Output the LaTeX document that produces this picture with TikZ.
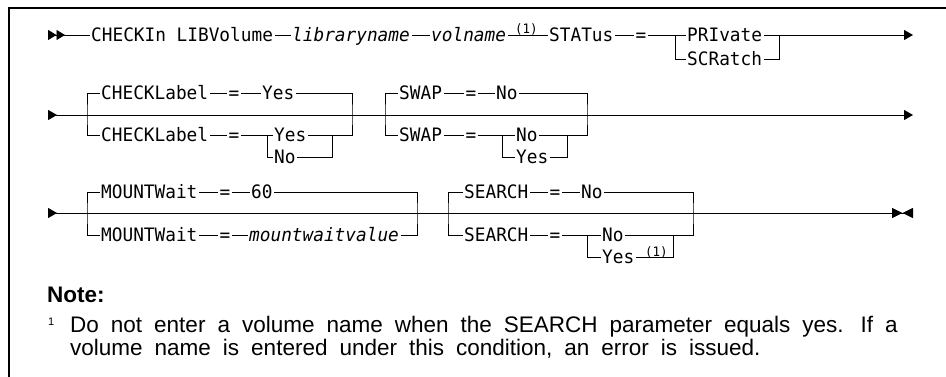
\documentclass[tikz,border=0pt]{standalone}
\usepackage{fontspec}
\usepackage{xcolor}
\usepackage{tikz}
\usetikzlibrary{positioning,arrows.meta,calc}
\newfontfamily\railfont{DejaVu Sans Mono}[FakeStretch=0.96]
\newfontfamily\notefont{Liberation Sans}
\newcommand\notespacing{\spaceskip 12pt\relax}
\definecolor{railblack}{RGB}{0,0,0}
\tikzset{
  keyword-node/.style={font=\railfont\fontsize{18.5}{22}\selectfont, anchor=west,
    inner xsep=1.5pt, inner ysep=0pt, text height=13.5pt, text depth=0pt},
  variable-node/.style={keyword-node, font=\railfont\itshape\fontsize{18.5}{22}\selectfont},
  equals-node/.style={keyword-node, anchor=center},
  ref-node/.style={font=\railfont\fontsize{13}{15}\selectfont, anchor=base west, inner sep=0pt},
  rail-line/.style={line width=0.9pt, draw=railblack},
  frame-line/.style={line width=1.6pt, draw=railblack},
  note-head/.style={font=\notefont\bfseries\fontsize{22.5}{26}\selectfont, anchor=base west, inner sep=0pt},
  note-text/.style={font=\notefont\fontsize{22.5}{26}\selectfont\notespacing, anchor=base west, inner sep=0pt},
  note-mark/.style={font=\notefont\fontsize{11}{13}\selectfont, anchor=base west, inner sep=0pt}
}

\begin{document}
\begin{tikzpicture}[x=1pt, y=-1pt]
\useasboundingbox (0,0) rectangle (946,377);
\draw[frame-line] (946,8) -- (9,8) -- (9,377);

% first row
\coordinate (r1start) at (48,35);
\coordinate (r1end) at (913,35);
\coordinate (r1left) at (675,35);
\coordinate (r1right) at (779,35);
\node[keyword-node] (chkin) at (89.5,35) {CHECKIn LIBVolume};
\node[variable-node] (libname) at (290.5,35) {libraryname};
\node[variable-node] (volname) at (429.5,35) {volname};
\node[ref-node] (volref) at (515,34) {(1)};
\node[keyword-node] (status) at (547.5,35) {STATus};
\node[equals-node] (eqst) at (641,35) {=};
\node[keyword-node] (priv) at (685.5,35) {PRIvate};
\node[keyword-node] (scr) at (685.5,59) {SCRatch};
\draw[rail-line, {Triangle[length=8.5pt, width=10pt, sep=0pt, reversed]Triangle[length=8.5pt, width=10pt, sep=0pt, reversed]}-]
  (r1start) -- (chkin.west);
\draw[rail-line] (chkin.east) -- (libname.west);
\draw[rail-line] (libname.east) -- (volname.west);
\draw[rail-line] (volname.east) -- (status.west);
\draw[rail-line] (status.east) -- (eqst.west);
\draw[rail-line] (eqst.east) -- (priv.west);
\draw[rail-line] (priv.west) -| (r1left) |- (scr.west);
\draw[rail-line] (priv.east) -| (r1right) |- (scr.east);
\draw[rail-line, -{Triangle[length=9pt, width=10pt]}] (priv.east) -- (r1end);

% second row
\coordinate (r2start) at (48,115);
\coordinate (r2end) at (913,115);
\draw[rail-line, {Triangle[length=9pt, width=10pt, reversed]}-{Triangle[length=9pt, width=10pt]}]
  (r2start) -- (r2end);
% CHECKLabel group
\coordinate (gAl) at (87,115);
\coordinate (gAr) at (352,115);
\coordinate (iAl) at (267,135);
\coordinate (iAr) at (332,135);
\node[keyword-node] (cklA) at (99.5,93) {CHECKLabel};
\node[equals-node] (eqA) at (234,93) {=};
\node[keyword-node] (yesA) at (260.5,93) {Yes};
\node[keyword-node] (cklB) at (99.5,135) {CHECKLabel};
\node[equals-node] (eqB) at (234,135) {=};
\node[keyword-node] (yesB) at (272.5,135) {Yes};
\node[keyword-node] (noB) at (272.5,157) {No};
\draw[rail-line] (cklA.west) -| (gAl) |- (cklB.west);
\draw[rail-line] (cklA.east) -- (eqA.west);
\draw[rail-line] (eqA.east) -- (yesA.west);
\draw[rail-line] (yesA.east) -| (gAr) |- (yesB.east);
\draw[rail-line] (cklB.east) -- (eqB.west);
\draw[rail-line] (eqB.east) -- (yesB.west);
\draw[rail-line] (yesB.west) -| (iAl) |- (noB.west);
\draw[rail-line] (noB.east) -| (iAr);
% SWAP group
\coordinate (gBl) at (385,115);
\coordinate (gBr) at (587,115);
\coordinate (iBl) at (502,135);
\coordinate (iBr) at (567,135);
\node[keyword-node] (swapA) at (397.5,93) {SWAP};
\node[equals-node] (eqC) at (471,93) {=};
\node[keyword-node] (noA) at (494.5,93) {No};
\node[keyword-node] (swapB) at (397.5,135) {SWAP};
\node[equals-node] (eqD) at (471,135) {=};
\node[keyword-node] (noC) at (514.5,135) {No};
\node[keyword-node] (yesC) at (514.5,157) {Yes};
\draw[rail-line] (swapA.west) -| (gBl) |- (swapB.west);
\draw[rail-line] (swapA.east) -- (eqC.west);
\draw[rail-line] (eqC.east) -- (noA.west);
\draw[rail-line] (noA.east) -| (gBr) |- (noC.east);
\draw[rail-line] (swapB.east) -- (eqD.west);
\draw[rail-line] (eqD.east) -- (noC.west);
\draw[rail-line] (noC.west) -| (iBl) |- (yesC.west);
\draw[rail-line] (yesC.east) -| (iBr);

% third row
\coordinate (r3start) at (48,213);
\coordinate (r3end) at (913,213);
\draw[rail-line, {Triangle[length=9pt, width=10pt, reversed]}-{Triangle[length=10.5pt, width=10pt, sep=0pt]Triangle[length=10.5pt, width=10pt, sep=0pt, reversed]}]
  (r3start) -- (r3end);
% MOUNTWait group
\coordinate (gCl) at (87,213);
\coordinate (gCr) at (417,213);
\node[keyword-node] (mwA) at (99.5,192) {MOUNTWait};
\node[equals-node] (eqE) at (225,192) {=};
\node[keyword-node] (sixty) at (249.5,192) {60};
\node[keyword-node] (mwB) at (99.5,235) {MOUNTWait};
\node[equals-node] (eqF) at (225,235) {=};
\node[variable-node] (mwval) at (247.5,235) {mountwaitvalue};
\draw[rail-line] (mwA.west) -| (gCl) |- (mwB.west);
\draw[rail-line] (mwA.east) -- (eqE.west);
\draw[rail-line] (eqE.east) -- (sixty.west);
\draw[rail-line] (sixty.east) -| (gCr) |- (mwval.east);
\draw[rail-line] (mwB.east) -- (eqF.west);
\draw[rail-line] (eqF.east) -- (mwval.west);
% SEARCH group
\coordinate (gDl) at (448,213);
\coordinate (gDr) at (693,213);
\coordinate (iDl) at (587,235);
\coordinate (iDr) at (673,235);
\node[keyword-node] (srA) at (462.5,192) {SEARCH};
\node[equals-node] (eqG) at (555,192) {=};
\node[keyword-node] (noD) at (579.5,192) {No};
\node[keyword-node] (srB) at (462.5,235) {SEARCH};
\node[equals-node] (eqH) at (555,235) {=};
\node[keyword-node] (noE) at (600.5,235) {No};
\node[keyword-node] (yesE) at (600.5,257) {Yes};
\node[ref-node] (yesref) at (645,256) {(1)};
\draw[rail-line] (srA.west) -| (gDl) |- (srB.west);
\draw[rail-line] (srA.east) -- (eqG.west);
\draw[rail-line] (eqG.east) -- (noD.west);
\draw[rail-line] (noD.east) -| (gDr) |- (noE.east);
\draw[rail-line] (srB.east) -- (eqH.west);
\draw[rail-line] (eqH.east) -- (noE.west);
\draw[rail-line] (noE.west) -| (iDl) |- (yesE.west);
\draw[rail-line] (yesE.east) -| (iDr);

% footnote
\node[note-head] (notehead) at (47,302) {Note:};
\node[note-mark] (fnmark) at (48,325) {1};
\node[note-text] (fnlineA) at (70,332) {Do not enter a volume name when the SEARCH parameter equals yes.\hspace{17pt}If a};
\node[note-text] (fnlineB) at (70,355) {volume name is entered under this condition, an error is issued.};
\end{tikzpicture}
\end{document}
